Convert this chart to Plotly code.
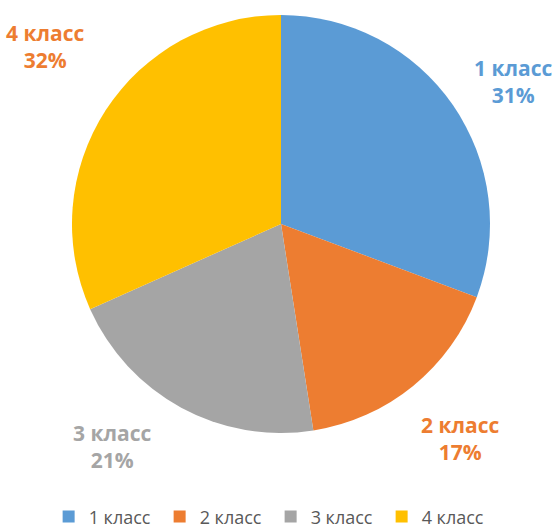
import plotly.graph_objects as go

categories = ["1 класс", "2 класс", "3 класс", "4 класс"]
values = [31, 17, 21, 32]
percent_labels = ["31%", "17%", "21%", "32%"]
slice_colors = ["#5B9BD5", "#ED7D31", "#A5A5A5", "#FFC000"]
label_colors = ["#5B9BD5", "#ED7D31", "#A5A5A5", "#ED7D31"]
label_pos = [(0.919, 0.845), (0.824, 0.170), (0.201, 0.155), (0.081, 0.912)]

W, H = 558, 528
cx, cy, r = 281, 224, 209

fig = go.Figure()
fig.add_trace(go.Pie(
    labels=categories,
    values=values,
    sort=False,
    direction="clockwise",
    rotation=0,
    marker=dict(colors=slice_colors, line=dict(width=0)),
    textinfo="none",
    hoverinfo="label+percent",
    domain=dict(x=[(cx - r) / W, (cx + r) / W], y=[1 - (cy + r) / H, 1 - (cy - r) / H]),
))

for cat, pct, col, (x, y) in zip(categories, percent_labels, label_colors, label_pos):
    fig.add_annotation(
        x=x, y=y, xref="paper", yref="paper",
        xanchor="center", yanchor="middle",
        text=f"<b>{cat}<br>{pct}</b>",
        showarrow=False,
        font=dict(family="Open Sans", size=21, color=col),
        align="center",
    )

fig.update_layout(
    width=W, height=H,
    margin=dict(l=0, r=0, t=0, b=0, autoexpand=False),
    paper_bgcolor="white",
    plot_bgcolor="white",
    showlegend=True,
    legend=dict(
        orientation="h",
        x=0.485, xanchor="center",
        y=0.021, yanchor="middle",
        font=dict(family="Open Sans", size=18, color="#595959"),
        itemsizing="constant",
        traceorder="normal",
        entrywidth=66,
    ),
)

fig.write_html("out.html", config={"displayModeBar": False})
with open("out.html", "r", encoding="utf-8") as f:
    html = f.read()
html = html.replace("<head>", "<head><style>html,body{margin:0;padding:0;overflow:hidden}</style>", 1)
with open("out.html", "w", encoding="utf-8") as f:
    f.write(html)
